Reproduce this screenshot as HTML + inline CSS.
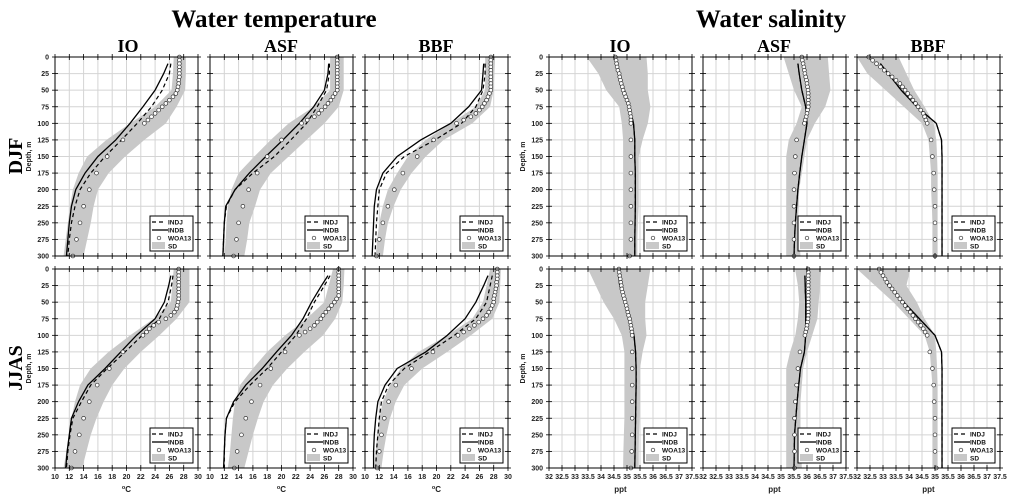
<!DOCTYPE html>
<html><head><meta charset="utf-8"><style>
html,body{margin:0;padding:0;background:#fff;}
svg{display:block;}
text{font-family:"Liberation Sans",sans-serif;}
.serif{font-family:"Liberation Serif",serif;font-weight:bold;}
</style></head><body>
<svg id="fig" width="1017" height="500" viewBox="0 0 1017 500" xmlns="http://www.w3.org/2000/svg"></svg>
<script>
// ---- shared depth arrays ----
const lineDepths=[10,25,50,75,100,125,150,175,200,225,250,275,300];
const woaDepths=[0,5,10,15,20,25,30,35,40,45,50,55,60,65,70,75,80,85,90,95,100,125,150,175,200,225,250,275,300];
const sdDepths=[0,25,50,75,100,125,150,175,200,225,250,275,300];
const depthTicks=[0,25,50,75,100,125,150,175,200,225,250,275,300];
const tempTicks=[10,12,14,16,18,20,22,24,26,28,30];
const salTicks=[32,32.5,33,33.5,34,34.5,35,35.5,36,36.5,37,37.5];
const tempTickLabels=["10","12","14","16","18","20","22","24","26","28","30"];
const salTickLabels=["32","32.5","33","33.5","34","34.5","35","35.5","36","36.5","37","37.5"];

// ---- Temperature DJF ----
const T_DJF_IO_INDJ=[26.2,26,25,23.5,21.5,19.3,17,15,13.5,12.8,12.3,12,11.8];
const T_DJF_IO_INDB=[25.8,25.2,24,22.3,20.5,18.5,16,14.2,12.9,12.3,12,11.8,11.6];
const T_DJF_IO_WOA=[27.4,27.4,27.4,27.4,27.4,27.4,27.4,27.3,27.3,27.2,27.1,26.9,26.5,26,25.5,25,24.5,24,23.5,23,22.5,19.5,17.3,15.8,14.8,14,13.5,13,12.5];
const T_DJF_IO_SDLO=[26.6,26.5,26.3,24,20.5,17.2,14.5,13.3,12.5,12.1,11.8,11.5,11.2];
const T_DJF_IO_SDHI=[28.3,28.3,28.2,27,25.5,22.5,19.8,17.5,16,15.4,15,14.5,14];
const T_DJF_ASF_INDJ=[26.7,26.7,26.3,25,23.5,21.3,19,16,13.5,12.3,12,11.9,11.8];
const T_DJF_ASF_INDB=[26.6,26.5,26,24.5,22.5,20.2,17.8,15.5,13.5,12.2,12,11.9,11.8];
const T_DJF_ASF_WOA=[27.8,27.8,27.8,27.8,27.8,27.8,27.8,27.8,27.8,27.8,27.8,27.5,27.2,26.9,26.5,26.1,25.6,25.2,24.6,23.6,22.8,20,18,16.6,15.4,14.6,14,13.7,13.3];
const T_DJF_ASF_SDLO=[26.8,26.8,26.8,24.5,21,18.5,16.2,14,13,12.5,12.3,12.2,12];
const T_DJF_ASF_SDHI=[28.7,28.7,28.7,28,26,23.5,21,18.5,17,16.3,15.5,15.2,14.8];
const T_DJF_BBF_INDJ=[26.8,26.8,26.5,25.5,23.5,19.8,15.5,13,12,11.8,11.6,11.5,11.4];
const T_DJF_BBF_INDB=[26.6,26.5,26.3,24.5,22,17.8,14.5,12.5,11.6,11.3,11.2,11.1,11];
const T_DJF_BBF_WOA=[27.6,27.6,27.6,27.6,27.6,27.6,27.6,27.6,27.6,27.6,27.6,27.4,27.2,27,26.7,26.4,26,25.5,24.8,23.8,22.8,19.6,17.3,15.3,14.1,13.2,12.5,12,11.6];
const T_DJF_BBF_SDLO=[26.8,26.8,26.8,25.5,22,18.5,16,14.5,13.2,12.5,12,11.7,11.5];
const T_DJF_BBF_SDHI=[28.2,28.1,28,27.5,25,21,18.5,16.5,15,14,13.2,12.8,12.5];
// ---- Temperature JJAS ----
const T_JJAS_IO_INDJ=[26.5,26.3,25.8,24.6,22.2,19.8,17.3,15,13.7,12.5,12.1,11.8,11.6];
const T_JJAS_IO_INDB=[26.2,25.9,25.3,24,21.4,19.2,17,14.6,13.3,12.3,12,11.7,11.5];
const T_JJAS_IO_WOA=[27.3,27.3,27.3,27.3,27.3,27.3,27.3,27.3,27.3,27.3,27.2,27.1,27,26.7,26.2,25.5,24.5,23.8,23.2,22.8,22.3,19.5,17.6,15.9,14.8,14,13.4,12.8,12.3];
const T_JJAS_IO_SDLO=[26.6,26.4,26.2,23.8,20.5,17.5,15,13.5,12.8,12.3,12,11.6,11.2];
const T_JJAS_IO_SDHI=[28.8,28.8,28.8,27,24.6,22,19.7,18,16.8,15.8,15,14.4,13.8];
const T_JJAS_ASF_INDJ=[26.8,26,24.6,23.5,22,20,18,15.6,13.5,12.3,12.1,12,12];
const T_JJAS_ASF_INDB=[26.5,25.6,24.2,23,21.4,19.3,17.3,15,13.3,12.3,12.1,12,11.9];
const T_JJAS_ASF_WOA=[28,28,28,28,28,28,28,28,28,27.7,27.4,27,26.6,26.2,25.8,25.5,25,24.6,24,23.3,22.5,20.5,18.5,17,15.8,15,14.4,13.8,13.4];
const T_JJAS_ASF_SDLO=[27.2,26.6,26,23.5,20.5,18,16,14.2,13.5,13.2,13,12.8,12.5];
const T_JJAS_ASF_SDHI=[28.8,28.7,28.5,27.5,25.8,23.2,20.8,18.8,17.5,16.7,16,15.4,14.8];
const T_JJAS_BBF_INDJ=[27.8,27.5,27,25.5,22.5,19,15.5,13.3,12.3,12,11.8,11.6,11.5];
const T_JJAS_BBF_INDB=[27.2,26.6,25.5,24,21.5,18.5,14.5,12.8,11.8,11.5,11.3,11.2,11.2];
const T_JJAS_BBF_WOA=[28.5,28.5,28.5,28.5,28.4,28.4,28.3,28.2,28.1,28,28,27.8,27.6,27.3,27,26.5,25.9,25.3,24.6,23.8,23,19.5,16.5,14.3,13.3,12.7,12.3,12,11.7];
const T_JJAS_BBF_SDLO=[27.5,27,26.5,25,21.5,17.5,15,13.5,12.5,12,11.7,11.5,11.3];
const T_JJAS_BBF_SDHI=[29,28.9,28.8,27.8,24.8,21.5,18,15.5,14.3,13.5,13,12.6,12.3];
// ---- Salinity DJF ----
const S_DJF_IO_INDJ=[34.6,34.7,34.9,35.1,35.25,35.3,35.3,35.32,35.32,35.32,35.31,35.3,35.3];
const S_DJF_IO_INDB=[34.6,34.7,34.9,35.1,35.25,35.3,35.3,35.32,35.32,35.32,35.31,35.3,35.3];
const S_DJF_IO_WOA=[34.55,34.58,34.6,34.62,34.65,34.7,34.72,34.75,34.78,34.82,34.85,34.9,34.95,35,35.05,35.08,35.1,35.12,35.15,35.15,35.15,35.15,35.15,35.15,35.15,35.15,35.15,35.15,35.1];
const S_DJF_IO_SDLO=[33.45,33.9,34.2,34.7,34.8,34.85,34.85,34.85,34.85,34.85,34.85,34.85,34.85];
const S_DJF_IO_SDHI=[35.75,35.8,35.8,35.9,35.8,35.6,35.45,35.45,35.45,35.45,35.42,35.4,35.4];
const S_DJF_ASF_INDJ=[35.65,35.7,35.8,35.95,36,35.9,35.8,35.72,35.65,35.6,35.55,35.52,35.5];
const S_DJF_ASF_INDB=[35.65,35.7,35.8,35.95,36,35.9,35.8,35.72,35.65,35.6,35.55,35.52,35.5];
const S_DJF_ASF_WOA=[35.8,35.82,35.85,35.88,35.9,35.92,35.95,35.98,36,36.02,36.04,36.05,36.05,36.05,36.05,36.05,36.02,36,35.97,35.93,35.9,35.6,35.55,35.52,35.5,35.5,35.5,35.5,35.5];
const S_DJF_ASF_SDLO=[35.1,35.3,35.5,35.8,35.6,35.3,35.2,35.2,35.2,35.2,35.2,35.2,35.2];
const S_DJF_ASF_SDHI=[36.8,36.85,36.9,36.7,36.3,36,35.9,35.8,35.7,35.68,35.65,35.7,35.75];
const S_DJF_BBF_INDJ=[32.9,33.2,33.7,34.3,35.05,35.25,35.27,35.27,35.27,35.27,35.27,35.27,35.27];
const S_DJF_BBF_INDB=[32.9,33.2,33.7,34.3,35.05,35.25,35.27,35.27,35.27,35.27,35.27,35.27,35.27];
const S_DJF_BBF_WOA=[32.45,32.6,32.75,32.9,33.05,33.2,33.35,33.5,33.65,33.75,33.85,33.95,34.05,34.15,34.25,34.35,34.45,34.55,34.6,34.65,34.7,34.85,34.9,34.95,34.97,35,35,35,35];
const S_DJF_BBF_SDLO=[32,32.4,33.1,33.8,34.5,34.75,34.8,34.85,34.85,34.88,34.9,34.9,34.9];
const S_DJF_BBF_SDHI=[33.6,33.9,34.2,34.6,34.95,35.05,35.08,35.1,35.1,35.1,35.1,35.1,35.1];
// ---- Salinity JJAS ----
const S_JJAS_IO_INDJ=[34.68,34.72,34.95,35.12,35.27,35.33,35.35,35.35,35.34,35.33,35.32,35.31,35.3];
const S_JJAS_IO_INDB=[34.68,34.72,34.95,35.12,35.27,35.33,35.35,35.35,35.34,35.33,35.32,35.31,35.3];
const S_JJAS_IO_WOA=[34.69,34.7,34.72,34.74,34.76,34.78,34.8,34.83,34.86,34.9,34.93,34.97,35,35.03,35.06,35.1,35.12,35.15,35.17,35.19,35.2,35.2,35.2,35.2,35.2,35.2,35.2,35.18,35.15];
const S_JJAS_IO_SDLO=[33.5,33.8,34.1,34.5,34.8,34.9,34.9,34.9,34.9,34.9,34.88,34.86,34.85];
const S_JJAS_IO_SDHI=[35.9,35.8,35.7,35.7,35.75,35.6,35.5,35.5,35.5,35.48,35.46,35.45,35.45];
const S_JJAS_ASF_INDJ=[35.92,35.93,35.95,35.95,35.95,35.9,35.75,35.68,35.62,35.57,35.52,35.51,35.5];
const S_JJAS_ASF_INDB=[35.92,35.93,35.95,35.95,35.95,35.9,35.75,35.68,35.62,35.57,35.52,35.51,35.5];
const S_JJAS_ASF_WOA=[36.04,36.05,36.05,36.05,36.05,36.05,36.05,36.05,36.05,36.05,36.05,36.05,36.05,36.05,36.05,36.04,36.02,36,35.98,35.95,35.92,35.73,35.65,35.6,35.55,35.52,35.52,35.52,35.52];
const S_JJAS_ASF_SDLO=[35.54,35.65,35.7,35.65,35.55,35.35,35.2,35.2,35.2,35.2,35.2,35.2,35.2];
const S_JJAS_ASF_SDHI=[36.54,36.5,36.45,36.4,36.2,36,35.85,35.8,35.75,35.75,35.75,35.78,35.8];
const S_JJAS_BBF_INDJ=[33,33.2,33.8,34.4,35,35.25,35.27,35.27,35.27,35.27,35.27,35.27,35.27];
const S_JJAS_BBF_INDB=[33,33.2,33.8,34.4,35,35.25,35.27,35.27,35.27,35.27,35.27,35.27,35.27];
const S_JJAS_BBF_WOA=[32.85,32.92,33,33.08,33.15,33.25,33.35,33.45,33.55,33.65,33.75,33.85,33.95,34.05,34.15,34.25,34.35,34.45,34.55,34.62,34.7,34.8,34.9,34.95,34.97,35,35,35,35.05];
const S_JJAS_BBF_SDLO=[32,32.7,33.4,34,34.6,34.8,34.85,34.9,34.9,34.9,34.9,34.9,34.9];
const S_JJAS_BBF_SDHI=[34.05,33.9,34.3,34.6,35,35.05,35.08,35.1,35.1,35.1,35.1,35.1,35.1];

const NS="http://www.w3.org/2000/svg";
const svg=document.getElementById('fig');
function mk(tag,attrs,parent){const e=document.createElementNS(NS,tag);for(const k in attrs)e.setAttribute(k,attrs[k]);(parent||svg).appendChild(e);return e;}

const panels=[
 {name:'temp-djf-io',x:55,y:57,t:'T',row:0,first:true,d:[T_DJF_IO_INDJ,T_DJF_IO_INDB,T_DJF_IO_WOA,T_DJF_IO_SDLO,T_DJF_IO_SDHI]},
 {name:'temp-djf-asf',x:210,y:57,t:'T',row:0,d:[T_DJF_ASF_INDJ,T_DJF_ASF_INDB,T_DJF_ASF_WOA,T_DJF_ASF_SDLO,T_DJF_ASF_SDHI]},
 {name:'temp-djf-bbf',x:365,y:57,t:'T',row:0,d:[T_DJF_BBF_INDJ,T_DJF_BBF_INDB,T_DJF_BBF_WOA,T_DJF_BBF_SDLO,T_DJF_BBF_SDHI]},
 {name:'sal-djf-io',x:549,y:57,t:'S',row:0,first:true,d:[S_DJF_IO_INDJ,S_DJF_IO_INDB,S_DJF_IO_WOA,S_DJF_IO_SDLO,S_DJF_IO_SDHI]},
 {name:'sal-djf-asf',x:703,y:57,t:'S',row:0,d:[S_DJF_ASF_INDJ,S_DJF_ASF_INDB,S_DJF_ASF_WOA,S_DJF_ASF_SDLO,S_DJF_ASF_SDHI]},
 {name:'sal-djf-bbf',x:857,y:57,t:'S',row:0,d:[S_DJF_BBF_INDJ,S_DJF_BBF_INDB,S_DJF_BBF_WOA,S_DJF_BBF_SDLO,S_DJF_BBF_SDHI]},
 {name:'temp-jjas-io',x:55,y:269,t:'T',row:1,first:true,d:[T_JJAS_IO_INDJ,T_JJAS_IO_INDB,T_JJAS_IO_WOA,T_JJAS_IO_SDLO,T_JJAS_IO_SDHI]},
 {name:'temp-jjas-asf',x:210,y:269,t:'T',row:1,d:[T_JJAS_ASF_INDJ,T_JJAS_ASF_INDB,T_JJAS_ASF_WOA,T_JJAS_ASF_SDLO,T_JJAS_ASF_SDHI]},
 {name:'temp-jjas-bbf',x:365,y:269,t:'T',row:1,d:[T_JJAS_BBF_INDJ,T_JJAS_BBF_INDB,T_JJAS_BBF_WOA,T_JJAS_BBF_SDLO,T_JJAS_BBF_SDHI]},
 {name:'sal-jjas-io',x:549,y:269,t:'S',row:1,first:true,d:[S_JJAS_IO_INDJ,S_JJAS_IO_INDB,S_JJAS_IO_WOA,S_JJAS_IO_SDLO,S_JJAS_IO_SDHI]},
 {name:'sal-jjas-asf',x:703,y:269,t:'S',row:1,d:[S_JJAS_ASF_INDJ,S_JJAS_ASF_INDB,S_JJAS_ASF_WOA,S_JJAS_ASF_SDLO,S_JJAS_ASF_SDHI]},
 {name:'sal-jjas-bbf',x:857,y:269,t:'S',row:1,d:[S_JJAS_BBF_INDJ,S_JJAS_BBF_INDB,S_JJAS_BBF_WOA,S_JJAS_BBF_SDLO,S_JJAS_BBF_SDHI]},
];
const W=143,H=199;

panels.forEach(p=>{
  const g=mk('g',{});
  
  
  const xmin=p.t==='T'?10:32, xmax=p.t==='T'?30:37.5;
  const xs=v=>p.x+(v-xmin)/(xmax-xmin)*W;
  const ys=d=>p.y+d/300*H;
  const xt=p.t==='T'?tempTicks:salTicks, xl=p.t==='T'?tempTickLabels:salTickLabels;
  xt.forEach(v=>{const l=mk('line',{x1:xs(v),x2:xs(v),y1:p.y,y2:p.y+H,stroke:'#d4d4d4','stroke-width':1},g);});
  depthTicks.forEach(d=>{const l=mk('line',{x1:p.x,x2:p.x+W,y1:ys(d),y2:ys(d),stroke:'#d4d4d4','stroke-width':1},g);});
  const [indj,indb,woa,lo,hi]=p.d;
  let pts=sdDepths.map((d,i)=>xs(lo[i])+','+ys(d));
  pts=pts.concat(sdDepths.map((d,i)=>xs(hi[i])+','+ys(d)).reverse());
  const band=mk('polygon',{points:pts.join(' '),fill:'#c8c8c8',stroke:'none'},g);
  
  
  const lb=mk('polyline',{points:lineDepths.map((d,i)=>xs(indb[i])+','+ys(d)).join(' '),fill:'none',stroke:'#000','stroke-width':1.3},g);
  
  
  const lj=mk('polyline',{points:lineDepths.map((d,i)=>xs(indj[i])+','+ys(d)).join(' '),fill:'none',stroke:'#000','stroke-width':1.2,'stroke-dasharray':'4,3'},g);
  
  
  woaDepths.forEach((d,i)=>{const c=mk('circle',{cx:xs(woa[i]),cy:ys(d),r:1.9,fill:'#fff',stroke:'#333','stroke-width':0.7},g);
    
    });
  const fr=mk('rect',{x:p.x,y:p.y,width:W,height:H,fill:'none',stroke:'#000','stroke-width':1},g);
  
  
  xt.forEach(v=>{mk('line',{x1:xs(v),x2:xs(v),y1:p.y-3,y2:p.y+3,stroke:'#000','stroke-width':0.8},g);mk('line',{x1:xs(v),x2:xs(v),y1:p.y+H-3,y2:p.y+H+3,stroke:'#000','stroke-width':0.8},g);});
  depthTicks.forEach(d=>{mk('line',{x1:p.x-3,x2:p.x+3,y1:ys(d),y2:ys(d),stroke:'#000','stroke-width':0.8},g);mk('line',{x1:p.x+W-3,x2:p.x+W+3,y1:ys(d),y2:ys(d),stroke:'#000','stroke-width':0.8},g);});
  if(p.first){
    depthTicks.forEach(d=>{const t=mk('text',{x:p.x-6,y:ys(d)+2.5,'font-size':7,'font-weight':'bold','text-anchor':'end',fill:'#222'},g);t.textContent=d;
      
      });
    const yt=mk('text',{x:0,y:0,'font-size':7,'font-weight':'bold','text-anchor':'middle',fill:'#222',transform:`translate(${p.x-24},${p.y+H/2}) rotate(-90)`},g);
    yt.textContent='Depth, m';
    
    
  }
  if(p.row===1){
    xt.forEach((v,i)=>{const t=mk('text',{x:xs(v),y:p.y+H+11,'font-size':7,'font-weight':'bold','text-anchor':'middle',fill:'#222'},g);t.textContent=xl[i];
      
      });
    const xtt=mk('text',{x:p.x+W/2,y:p.y+H+24,'font-size':8,'font-weight':'bold','text-anchor':'middle',fill:'#222'},g);
    if(p.t==='T'){xtt.innerHTML='<tspan font-size="5.5" dy="-3">o</tspan><tspan dy="3">C</tspan>';}else{xtt.textContent='ppt';}
    
    
  }
  const R=p.x+W, B=p.y+H;
  const lg=mk('g',{},g);
  
  
  mk('rect',{x:R-48,y:B-40,width:43,height:35,fill:'#fff',stroke:'#000','stroke-width':1},lg);
  mk('line',{x1:R-46,x2:R-32,y1:B-34,y2:B-34,stroke:'#000','stroke-width':1.2,'stroke-dasharray':'4,3'},lg);
  mk('line',{x1:R-46,x2:R-30,y1:B-26,y2:B-26,stroke:'#000','stroke-width':1.3},lg);
  mk('circle',{cx:R-39,cy:B-18,r:1.8,fill:'#fff',stroke:'#333','stroke-width':0.7},lg);
  mk('rect',{x:R-46,y:B-14,width:13,height:7,fill:'#c8c8c8'},lg);
  ['INDJ','INDB','WOA13','SD'].forEach((s,i)=>{const t=mk('text',{x:R-30,y:B-31.5+i*8,'font-size':6.5,'font-weight':'bold',fill:'#111'},lg);t.textContent=s;
    
    });
});

function txt(x,y,s,size,name,extra){const t=mk('text',Object.assign({x:x,y:y,'font-size':size,'text-anchor':'middle',fill:'#000',class:'serif'},extra||{}));t.textContent=s;
  
  return t;}
txt(274,27,'Water temperature',25,'temperature-title');
txt(771,27,'Water salinity',25,'salinity-title');
[['IO',128],['ASF',281],['BBF',436],['IO',620],['ASF',774],['BBF',928]].forEach(a=>txt(a[1],52,a[0],18,'column-title'));
txt(0,0,'DJF',20,'row-label-djf',{transform:'translate(22,156) rotate(-90)'});
txt(0,0,'JJAS',20,'row-label-jjas',{transform:'translate(22,368) rotate(-90)'});
</script>
</body></html>
